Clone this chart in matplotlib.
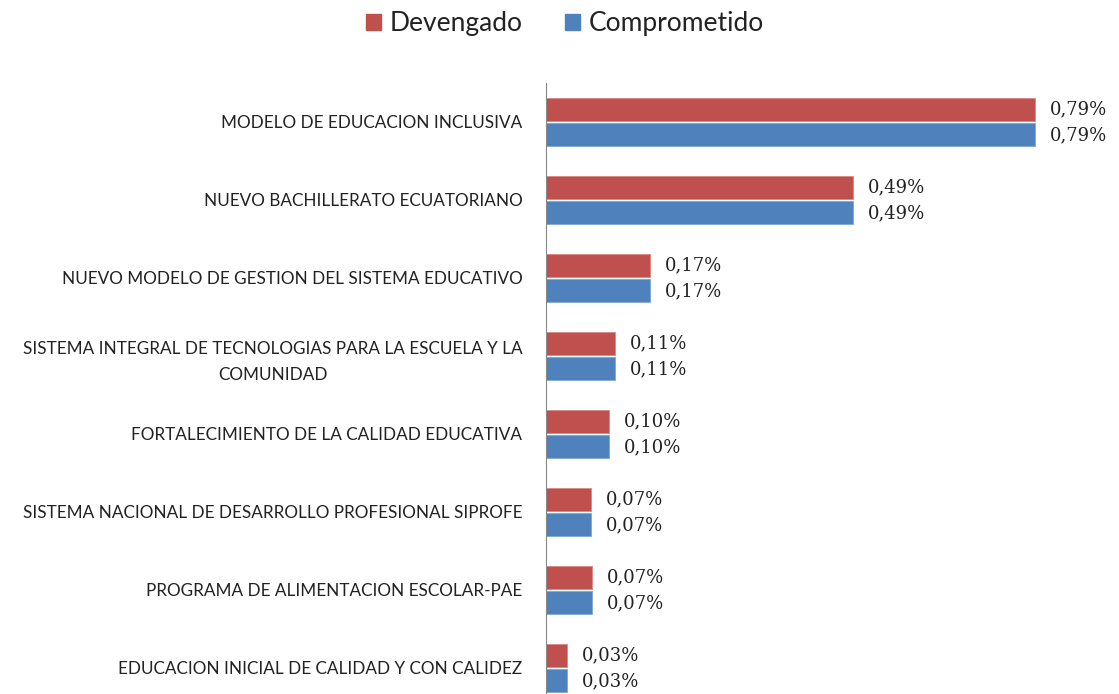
import numpy as np
import matplotlib
matplotlib.use('Agg')
import matplotlib.pyplot as plt
from matplotlib.patches import Patch

categorias=['MODELO DE EDUCACION INCLUSIVA',
            'NUEVO BACHILLERATO ECUATORIANO',
            'NUEVO MODELO DE GESTION DEL SISTEMA EDUCATIVO',
            'SISTEMA INTEGRAL DE TECNOLOGIAS PARA LA ESCUELA Y LA\nCOMUNIDAD',
            'FORTALECIMIENTO DE LA CALIDAD EDUCATIVA',
            'SISTEMA NACIONAL DE DESARROLLO PROFESIONAL SIPROFE',
            'PROGRAMA DE ALIMENTACION ESCOLAR-PAE',
            'EDUCACION INICIAL DE CALIDAD Y CON CALIDEZ']
devengado=[0.79,0.49,0.17,0.11,0.10,0.07,0.07,0.03]
comprometido=[0.79,0.49,0.17,0.11,0.10,0.07,0.07,0.03]
# lengths (labels are rounded)
devengado_px=[0.790,0.496,0.168,0.112,0.102,0.073,0.075,0.034]
comprometido_px=[0.790,0.496,0.168,0.112,0.102,0.073,0.075,0.034]

col_dev='#C0504D'
col_com='#4F81BD'

def fmt(v):
    return ('%.2f' % v).replace('.',',')+'%'

fig=plt.figure(figsize=(11.19,6.94),dpi=100)
ax=fig.add_axes([546/1119,-13/694,557/1119,624/694])

y=np.arange(len(categorias))
h=0.295
ax.barh(y-0.165,devengado_px,height=h,color=col_dev,edgecolor='#D88784',linewidth=0.6)
ax.barh(y+0.165,comprometido_px,height=h,color=col_com,edgecolor='#7FA6D6',linewidth=0.6)

for i in range(len(categorias)):
    ax.text(devengado_px[i]+0.024,y[i]-0.165,fmt(devengado[i]),
            va='center',ha='left',fontsize=13,family='DejaVu Serif',color='#222222')
    ax.text(comprometido_px[i]+0.024,y[i]+0.165,fmt(comprometido[i]),
            va='center',ha='left',fontsize=13,family='DejaVu Serif',color='#222222')

ax.set_ylim(len(categorias)-0.5,-0.5)
ax.set_xlim(0,0.9)
ax.set_yticks(y)
ax.set_yticklabels(categorias,fontsize=12.3,family='Lato',color='#222222',
                   multialignment='center',linespacing=1.7)
ax.tick_params(axis='y',length=0,pad=17)
ax.set_xticks([])
for s in ['top','right','bottom']:
    ax.spines[s].set_visible(False)
ax.spines['left'].set_color('#888888')
ax.patch.set_alpha(0)

handles=[Patch(color=col_dev,label='Devengado'),Patch(color=col_com,label='Comprometido')]
fig.legend(handles=handles,loc='upper center',bbox_to_anchor=(0.505,1.018),ncol=2,frameon=False,
           prop={'family':'Lato','size':19},labelcolor='#222222',handlelength=0.55,handleheight=0.55,
           handletextpad=0.35,columnspacing=1.6)

fig.savefig('out.png',dpi=100)
